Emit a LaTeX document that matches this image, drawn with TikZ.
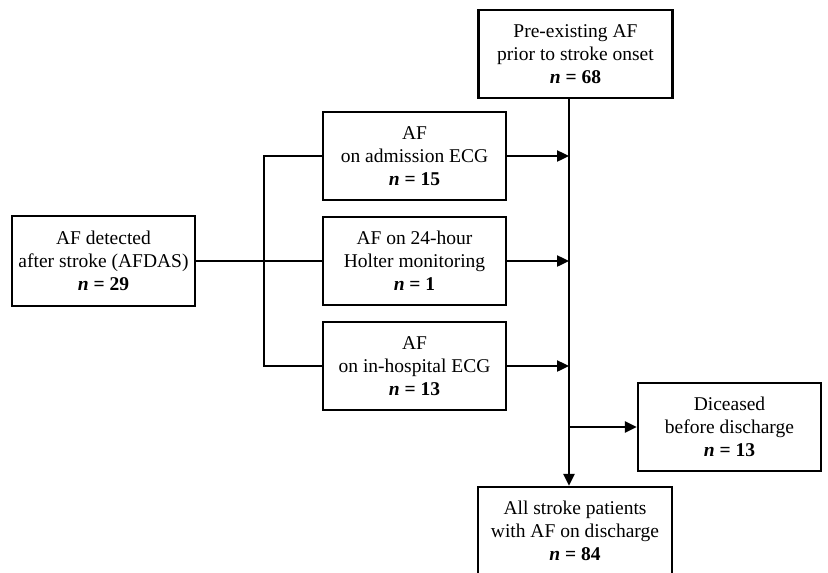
\documentclass[tikz,border=0pt]{standalone}
\usepackage{fontspec}
\setmainfont{Liberation Serif}
\usetikzlibrary{arrows.meta}
\tikzset{
  box/.style={draw=black, line width=2.4pt, fill=white, align=center, inner sep=0pt,
    font=\fontsize{19.5pt}{23pt}\selectfont},
  conn/.style={draw=black, line width=2.4pt},
  arr/.style={conn, -{Triangle[length=12pt,width=11pt]}}
}
\newcommand{\nval}[1]{\textbf{\textit{n} = #1}}
\begin{document}
\begin{tikzpicture}[x=1pt,y=-1pt]
\useasboundingbox (0,0) rectangle (828,573);
\fill[white] (0,0) rectangle (828,573);
\node[box, minimum width=194pt, minimum height=88pt] (pre) at (575.5,54) {Pre-existing AF\\prior to stroke onset\\\nval{68}};
\node[box, minimum width=183pt, minimum height=88pt] (adm) at (414.5,156) {AF\\on admission ECG\\\nval{15}};
\node[box, minimum width=183pt, minimum height=88pt] (hol) at (414.5,261) {AF on 24-hour\\Holter monitoring\\\nval{1}};
\node[box, minimum width=183pt, minimum height=88pt] (hosp) at (414.5,366) {AF\\on in-hospital ECG\\\nval{13}};
\node[box, minimum width=183pt, minimum height=90pt] (det) at (103.5,261) {AF detected\\after stroke (AFDAS)\\\nval{29}};
\node[box, minimum width=183pt, minimum height=88pt] (dec) at (729.5,427) {Diceased\\before discharge\\\nval{13}};
\node[box, minimum width=194pt, minimum height=88pt] (all) at (575,531) {All stroke patients\\with AF on discharge\\\nval{84}};
\coordinate (v) at (569,0);
\coordinate (s) at (264,0);
% left split
\draw[conn] (det.east) -- (hol.west);
\draw[conn] (adm.west) -- (adm.west -| s) -- (hosp.west -| s) -- (hosp.west);
% main vertical
\draw[arr] (pre.south -| v) -- (all.north -| v);
\draw[arr] (adm.east) -- (adm.east -| v);
\draw[arr] (hol.east) -- (hol.east -| v);
\draw[arr] (hosp.east) -- (hosp.east -| v);
\draw[arr] (v |- dec.west) -- (dec.west);
\end{tikzpicture}
\end{document}
